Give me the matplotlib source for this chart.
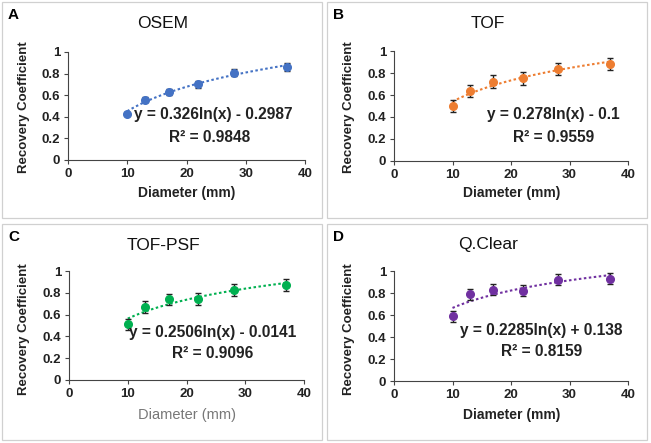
import numpy as np
import matplotlib
matplotlib.use("Agg")
import matplotlib.pyplot as plt
from matplotlib.patches import Rectangle

plt.rcParams["font.family"] = ["Liberation Sans", "DejaVu Sans"]

# =====================================================
# DATA
# =====================================================

diameter = [10, 13, 17, 22, 28, 37]

titles = ["OSEM", "TOF", "TOF-PSF", "Q.Clear"]
letters = ["A", "B", "C", "D"]

rc_osem = [0.43, 0.56, 0.63, 0.70, 0.81, 0.86]
rc_tof = [0.50, 0.64, 0.72, 0.75, 0.84, 0.88]
rc_tofpsf = [0.51, 0.67, 0.74, 0.74, 0.83, 0.87]
rc_qclear = [0.59, 0.79, 0.83, 0.82, 0.92, 0.93]

err_osem = [0.015, 0.02, 0.025, 0.03, 0.03, 0.04]
err_tof = [0.055, 0.055, 0.06, 0.055, 0.055, 0.055]
err_tofpsf = [0.05, 0.055, 0.05, 0.055, 0.055, 0.055]
err_qclear = [0.05, 0.05, 0.05, 0.05, 0.05, 0.05]

fit_slope = [0.326, 0.278, 0.2506, 0.2285]
fit_icpt = [-0.2987, -0.1, -0.0141, 0.138]
equations = [
    "y = 0.326ln(x) - 0.2987",
    "y = 0.278ln(x) - 0.1",
    "y = 0.2506ln(x) - 0.0141",
    "y = 0.2285ln(x) + 0.138",
]
r2_labels = ["R² = 0.9848", "R² = 0.9559", "R² = 0.9096", "R² = 0.8159"]

colors = ["#4472C4", "#ED7D31", "#00B050", "#7030A0"]

values = [rc_osem, rc_tof, rc_tofpsf, rc_qclear]
errors = [err_osem, err_tof, err_tofpsf, err_qclear]

# =====================================================
# LAYOUT (pixel based)
# =====================================================

W, H = 651, 443
fig = plt.figure(figsize=(W / 100, H / 100), dpi=100)


def fx(x):
    return x / W


def fy(y):
    return 1 - y / H


# panel origin (x0, y0) in pixels, axes box (left, top, right, bottom)
panels = [
    (0, 0, (68, 52, 305, 160)),
    (325, 0, (394, 51, 628, 161)),
    (0, 222, (69, 271, 304, 380)),
    (325, 222, (394, 271, 628, 381)),
]

# local text positions
eq_pos = [(213, 115), (228, 115), (213, 110), (216, 108)]
r2_pos = [(210, 137), (229, 137), (213, 131), (217, 129)]
xlab_gray = [False, False, True, False]

for i, (ox, oy, box) in enumerate(panels):

    # panel border
    fig.patches.append(
        Rectangle(
            (fx(ox + 2), fy(oy + 218)),
            320 / W,
            216 / H,
            transform=fig.transFigure,
            fill=False,
            edgecolor="#D0D0D0",
            linewidth=0.9,
        )
    )

    l, t, r, b = box
    ax = fig.add_axes([fx(l), fy(b), (r - l) / W, (b - t) / H])

    xs = np.linspace(10, 37, 100)
    ax.plot(
        xs,
        fit_slope[i] * np.log(xs) + fit_icpt[i],
        linestyle=(0, (1.2, 1.2)),
        color=colors[i],
        linewidth=1.5,
    )

    ax.errorbar(
        diameter,
        values[i],
        yerr=errors[i],
        fmt="o",
        color=colors[i],
        markersize=5.5,
        ecolor="#222222",
        elinewidth=1.0,
        capsize=2.5,
        capthick=1.0,
        zorder=3,
    )

    ax.set_xlim(0, 40)
    ax.set_ylim(0, 1)
    ax.set_xticks([0, 10, 20, 30, 40])
    ax.set_yticks([0, 0.2, 0.4, 0.6, 0.8, 1])
    ax.set_yticklabels(["0", "0.2", "0.4", "0.6", "0.8", "1"])

    ax.spines["top"].set_visible(False)
    ax.spines["right"].set_visible(False)
    ax.spines["left"].set_color("#444444")
    ax.spines["bottom"].set_color("#444444")

    ax.tick_params(
        axis="both",
        labelsize=9.5,
        direction="out",
        length=3,
        width=0.8,
        color="#444444",
        pad=2.5,
    )
    for lab in ax.get_xticklabels() + ax.get_yticklabels():
        lab.set_fontweight("bold")
        lab.set_color("#222222")

    # panel letter
    fig.text(
        fx(ox + 8), fy(oy + 15), letters[i],
        fontsize=11, fontweight="bold", ha="left", va="center",
    )

    # title
    fig.text(
        fx(ox + 163), fy(oy + 23), titles[i],
        fontsize=12.5, ha="center", va="center", color="#111111",
    )

    # axis labels
    fig.text(
        fx(ox + 24), fy(oy + 107), "Recovery Coefficient",
        fontsize=9.5, fontweight="bold", rotation=90,
        ha="center", va="center", color="#222222",
    )
    if xlab_gray[i]:
        fig.text(
            fx(ox + 187), fy(oy + 193), "Diameter (mm)",
            fontsize=10.5, ha="center", va="center", color="#777777",
        )
    else:
        fig.text(
            fx(ox + 187), fy(oy + 193), "Diameter (mm)",
            fontsize=10, fontweight="bold", ha="center", va="center",
            color="#222222",
        )

    # fit equation
    ex, ey = eq_pos[i]
    fig.text(
        fx(ox + ex), fy(oy + ey), equations[i],
        fontsize=11.2, fontweight="bold", ha="center", va="center",
        color="#222222",
    )
    rx, ry = r2_pos[i]
    fig.text(
        fx(ox + rx), fy(oy + ry), r2_labels[i],
        fontsize=11.2, fontweight="bold", ha="center", va="center",
        color="#222222",
    )

fig.savefig("out.png", dpi=100)
